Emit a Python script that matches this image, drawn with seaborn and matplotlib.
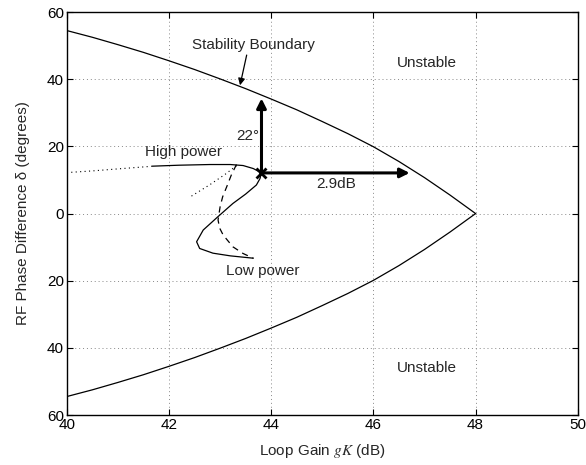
import matplotlib
matplotlib.use("Agg")
import matplotlib.pyplot as plt
from matplotlib.ticker import FuncFormatter
import seaborn as sns

sns.set_theme(style="ticks")
plt.rcParams["font.family"] = ["Liberation Sans", "DejaVu Sans"]
plt.rcParams["mathtext.fontset"] = "stix"

# stability boundary (upper half, lower half is the mirror)
bound_x = [40, 40.5, 41, 41.5, 42, 42.5, 43, 43.5, 44, 44.5, 45, 45.5, 46, 46.5, 47, 47.5, 48]
bound_y = [54.5, 52.5, 50.3, 48.0, 45.5, 42.9, 40.1, 37.2, 34.1, 30.9, 27.4, 23.8, 19.9, 15.5, 10.7, 5.5, 0]

# solid trajectory: high power -> operating point -> low power
solid_x = [41.66, 42.2, 42.8, 43.2, 43.45, 43.65, 43.81, 43.78, 43.71, 43.5, 43.25, 42.96, 42.67, 42.54, 42.6, 42.86, 43.2, 43.65]
solid_y = [14.1, 14.4, 14.6, 14.6, 14.3, 13.4, 12.1, 10.4, 8.5, 5.8, 3.0, -0.9, -4.9, -8.4, -10.4, -11.8, -12.6, -13.3]

# dashed trajectory
dash_x = [43.32, 43.22, 43.13, 43.05, 43.0, 42.96, 42.99, 43.06, 43.25, 43.45, 43.65]
dash_y = [14.6, 11.5, 8.0, 5.0, 2.0, -1.9, -4.3, -6.4, -9.9, -11.9, -13.3]

# dotted traces
dot1_x = [40, 40.5, 41.0, 41.6]
dot1_y = [12.2, 12.7, 13.3, 14.0]
dot2_x = [42.44, 42.8, 43.1, 43.35]
dot2_y = [5.2, 8.6, 11.7, 14.6]

op_x, op_y = 43.81, 12.1          # operating point
phase_margin_y = 34.3             # 22 deg up to boundary
gain_margin_x = 46.71             # 2.9 dB across to boundary

fig, ax = plt.subplots(figsize=(5.86, 4.65), dpi=100)
fig.subplots_adjust(left=0.114, right=0.986, bottom=0.1075, top=0.974)

kw = dict(ax=ax, sort=False, estimator=None, color="black", legend=False)
sns.lineplot(x=bound_x, y=bound_y, lw=0.9, **kw)
sns.lineplot(x=bound_x, y=[-v for v in bound_y], lw=0.9, **kw)
sns.lineplot(x=solid_x, y=solid_y, lw=0.9, **kw)
sns.lineplot(x=dash_x, y=dash_y, lw=0.9, linestyle=(0, (5, 4)), **kw)
sns.lineplot(x=dot1_x, y=dot1_y, lw=0.8, linestyle=(0, (1, 3)), **kw)
sns.lineplot(x=dot2_x, y=dot2_y, lw=0.8, linestyle=(0, (1, 3)), **kw)

ax.plot([op_x], [op_y], marker="x", color="black", ms=7, mew=2)

arr = dict(arrowstyle="-|>", color="black", lw=2.2, mutation_scale=14, shrinkA=0, shrinkB=0)
ax.annotate("", xy=(op_x, phase_margin_y), xytext=(op_x, op_y), arrowprops=arr)
ax.annotate("", xy=(gain_margin_x, op_y), xytext=(op_x, op_y), arrowprops=arr)
ax.annotate("", xy=(43.39, 38.2), xytext=(43.52, 47.2),
            arrowprops=dict(arrowstyle="-|>", color="black", lw=0.9, mutation_scale=10,
                            shrinkA=0, shrinkB=0))

fs = 11
ax.text(43.65, 50.1, "Stability Boundary", ha="center", va="center", fontsize=fs)
ax.text(43.76, 23.1, "22°", ha="right", va="center", fontsize=fs)
ax.text(45.28, 8.7, "2.9dB", ha="center", va="center", fontsize=fs)
ax.text(47.04, 44.7, "Unstable", ha="center", va="center", fontsize=fs)
ax.text(47.04, -46.1, "Unstable", ha="center", va="center", fontsize=fs)
ax.text(42.29, 18.4, "High power", ha="center", va="center", fontsize=fs)
ax.text(43.84, -17.0, "Low power", ha="center", va="center", fontsize=fs)

ax.set_xlim(40, 50)
ax.set_ylim(-60, 60)
ax.set_xticks(range(40, 51, 2))
ax.set_yticks(range(-60, 61, 20))
ax.yaxis.set_major_formatter(FuncFormatter(lambda v, p: f"{abs(v):.0f}"))
ax.tick_params(direction="in", top=True, right=True, length=4, width=0.8,
               labelsize=fs, colors="black", pad=2)
ax.grid(True, color="#888888", lw=0.7, linestyle=(0, (1, 3)))
for s in ax.spines.values():
    s.set_color("black")
    s.set_linewidth(1.0)

ax.set_xlabel("Loop Gain $gK$ (dB)", fontsize=fs, labelpad=7)
ax.set_ylabel("RF Phase Difference δ (degrees)", fontsize=fs, labelpad=12)

fig.savefig("out.png", dpi=100)
